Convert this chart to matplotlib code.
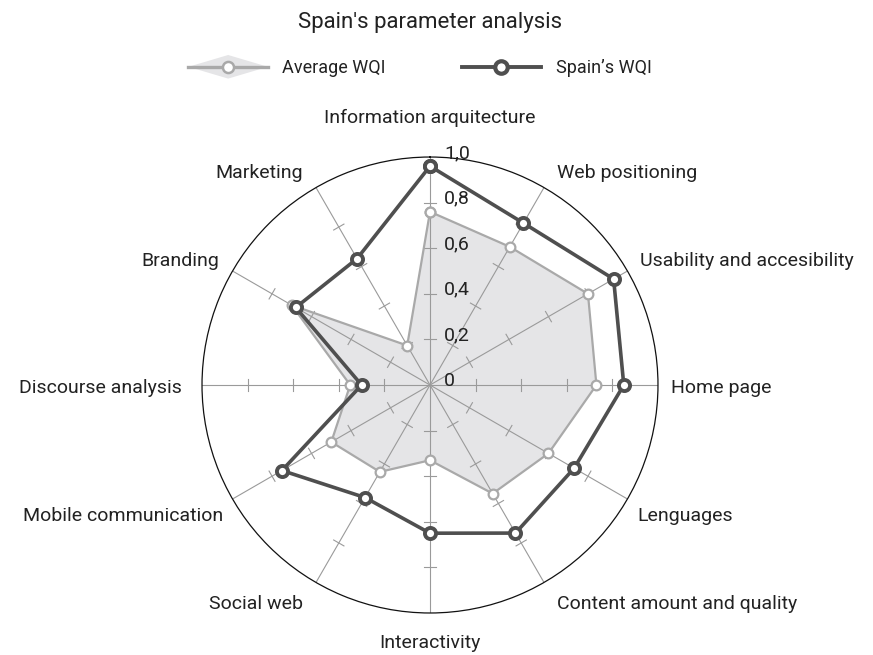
import numpy as np
import matplotlib
matplotlib.use("Agg")
import matplotlib.pyplot as plt
from matplotlib.patches import Polygon, Patch
from matplotlib.lines import Line2D
from matplotlib.legend_handler import HandlerPatch, HandlerTuple

plt.rcParams['font.family'] = ['Roboto', 'DejaVu Sans']

categories = ["Information arquitecture", "Web positioning", "Usability and accesibility",
              "Home page", "Lenguages", "Content amount and quality", "Interactivity",
              "Social web", "Mobile communication", "Discourse analysis", "Branding", "Marketing"]
average_wqi = [0.76, 0.70, 0.80, 0.73, 0.60, 0.55, 0.33, 0.44, 0.50, 0.35, 0.70, 0.20]
spain_wqi = [0.96, 0.82, 0.93, 0.85, 0.73, 0.75, 0.65, 0.57, 0.75, 0.30, 0.68, 0.64]
r_ticks = [0, 0.2, 0.4, 0.6, 0.8, 1.0]
r_tick_labels = ["0", "0,2", "0,4", "0,6", "0,8", "1,0"]

DARK = "#4f4f4f"
LIGHT = "#a9a9a9"
FILL = "#e5e5e7"
SPOKE = "#9a9a9a"
TXT = "#222222"

fig = plt.figure(figsize=(8.73, 6.55), dpi=100)
ax = fig.add_axes([0.2314, 0.0641, 0.5223, 0.6962], projection='polar')
ax.set_theta_zero_location('N')
ax.set_theta_direction(-1)
ax.set_ylim(0, 1)
ax.grid(False)
ax.set_xticks([])
ax.set_yticks([])
ax.spines['polar'].set_color('#111111')
ax.spines['polar'].set_linewidth(0.9)

n = len(categories)
angles = np.arange(n) * 2 * np.pi / n

# spokes and tick marks
half = 0.026
for a in angles:
    ax.plot([a, a], [0, 1], color=SPOKE, lw=0.8, zorder=2)
    for r in r_ticks[1:5]:
        dth = np.arctan(half / r)
        rr = np.hypot(r, half)
        ax.plot([a - dth, a + dth], [rr, rr], color=SPOKE, lw=0.8, zorder=2)

ang_c = np.append(angles, angles[0])
avg_c = np.append(average_wqi, average_wqi[0])
sp_c = np.append(spain_wqi, spain_wqi[0])

ax.fill(ang_c, avg_c, color=FILL, zorder=1, lw=0)
ax.plot(ang_c, avg_c, color=LIGHT, lw=1.6, zorder=3, marker='o', markersize=7,
        markerfacecolor='white', markeredgecolor=LIGHT, markeredgewidth=1.6)
ax.plot(ang_c, sp_c, color=DARK, lw=2.6, zorder=4, marker='o', markersize=8,
        markerfacecolor='white', markeredgecolor=DARK, markeredgewidth=2.8)

# radial labels
for v, lab in zip(r_ticks, r_tick_labels):
    ax.annotate(lab, xy=(0, v), xytext=(14, 4), textcoords='offset pixels',
                ha='left', va='center', fontsize=14, color=TXT, zorder=5,
                annotation_clip=False)

# category labels
for a, lab in zip(angles, categories):
    deg = int(round(np.degrees(a))) % 360
    s, c = np.sin(a), np.cos(a)
    if deg == 0:
        ax.text(a, 1.17, lab, ha='center', va='center', fontsize=14, color=TXT)
        continue
    if deg == 180:
        ax.text(a, 1.13, lab, ha='center', va='center', fontsize=14, color=TXT)
        continue
    ha = 'left' if s > 0 else 'right'
    sign = 1 if s > 0 else -1
    if deg == 90:
        dx, dy = -1, -3
    elif deg == 270:
        dx, dy = -6, -3
    else:
        dx = sign * (6 if deg in (30, 150, 210, 330) else 1)
        dy = 3 if c > 0 else -10
        if deg == 120:
            dx = -2
        if deg == 240:
            dx = 3
    ax.annotate(lab, xy=(a, 1.06), xytext=(dx, dy), textcoords='offset pixels',
                ha=ha, va='center', fontsize=14, color=TXT, annotation_clip=False)

fig.text(0.4926, 0.965, "Spain's parameter analysis", ha='center', va='center',
         fontsize=16, color=TXT)

def make_diamond(legend, orig_handle, xdescent, ydescent, width, height, fontsize):
    cy = height / 2 - ydescent
    x0 = -xdescent
    return Polygon([[x0, cy], [x0 + width / 2, cy + 8.5], [x0 + width, cy],
                    [x0 + width / 2, cy - 8.5]], closed=True)

avg_patch = Patch(facecolor=FILL, edgecolor='none')
avg_line = Line2D([], [], color=LIGHT, lw=2.4, marker='o', markersize=8,
                  markerfacecolor='white', markeredgecolor=LIGHT, markeredgewidth=1.8)
sp_line = Line2D([], [], color=DARK, lw=2.8, marker='o', markersize=9,
                 markerfacecolor='white', markeredgecolor=DARK, markeredgewidth=3)

leg = fig.legend([(avg_patch, avg_line), sp_line], ["Average WQI", "Spain\u2019s WQI"],
                 handler_map={Patch: HandlerPatch(patch_func=make_diamond),
                              tuple: HandlerTuple(ndivide=1)},
                 loc='center', bbox_to_anchor=(0.481, 0.896), ncol=2, frameon=False,
                 fontsize=13, handlelength=4.4, handletextpad=0.8, columnspacing=4.2)
for t in leg.get_texts():
    t.set_color(TXT)

fig.savefig("out.png", dpi=100)
